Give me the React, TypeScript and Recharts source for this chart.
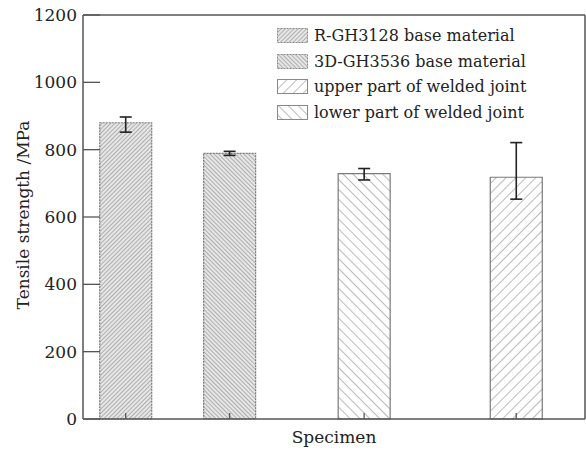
import React from "react";
import { BarChart, Bar, XAxis, YAxis, ErrorBar, Cell, ReferenceLine } from "recharts";

// specimen order as drawn, left to right
const specimenPos = [0.85, 2.92, 5.6, 8.63];
const strength = [880, 789, 729, 718];
const errLow = [28, 6, 19, 65];
const errHigh = [17, 6, 15, 103];
const yTicks = [0, 200, 400, 600, 800, 1000, 1200];

const legendLabels = [
  "R-GH3128 base material",
  "3D-GH3536 base material",
  "upper part of welded joint",
  "lower part of welded joint",
];
// hatch used by each bar, and by each legend row
const barPattern = ["dense-fwd", "dense-back", "sparse-back", "sparse-fwd"];
const legendPattern = ["dense-fwd", "dense-back", "sparse-fwd", "sparse-back"];

const data = specimenPos.map((pos, i) => ({
  pos,
  strength: strength[i],
  err: [errLow[i], errHigh[i]],
}));

const FONT = "'DejaVu Serif', serif";
const AXIS = "#555";

const isDense = (id: string) => id.startsWith("dense");

const YTick = (props: any) => {
  const { x, y, payload } = props;
  return (
    <g>
      <line x1={x} x2={x + 17} y1={y} y2={y} stroke={AXIS} strokeWidth={1.3} />
      <text x={x - 6} y={y} textAnchor="end" dominantBaseline="central" fontFamily={FONT} fontSize={17} fill="#222">
        {payload.value}
      </text>
    </g>
  );
};

const XTick = (props: any) => {
  const { x, y } = props;
  return <line x1={x} x2={x} y1={y} y2={y - 6} stroke={AXIS} strokeWidth={1.3} />;
};

const XLabel = (props: any) => {
  const { viewBox } = props;
  return (
    <text x={viewBox.x + viewBox.width / 2} y={viewBox.y + 24} textAnchor="middle" fontFamily={FONT} fontSize={17} fill="#222">
      Specimen
    </text>
  );
};

const YLabel = (props: any) => {
  const { viewBox } = props;
  const cx = 23;
  const cy = viewBox.y + viewBox.height / 2 - 2;
  return (
    <text x={cx} y={cy} transform={`rotate(-90, ${cx}, ${cy})`} textAnchor="middle" dominantBaseline="central" fontFamily={FONT} fontSize={17} fill="#222">
      Tensile strength /MPa
    </text>
  );
};

const LegendBox = () => (
  <div style={{ position: "absolute", left: 277, top: 23, fontFamily: FONT, fontSize: 16, color: "#222" }}>
    {legendLabels.map((label, i) => (
      <div key={label} style={{ display: "flex", alignItems: "center", height: 25.5 }}>
        <svg width={31} height={15} style={{ marginRight: 6 }}>
          <rect
            x={0.5}
            y={0.5}
            width={30}
            height={14}
            fill={`url(#${legendPattern[i]})`}
            stroke="#888"
            strokeDasharray={isDense(legendPattern[i]) ? "2 1" : undefined}
          />
        </svg>
        <span style={{ whiteSpace: "nowrap" }}>{label}</span>
      </div>
    ))}
  </div>
);

export default function App() {
  return (
    <div style={{ position: "absolute", left: 0, top: 0, width: 586, height: 452, background: "#fff" }}>
      <BarChart width={586} height={452} data={data} margin={{ top: 15, right: 1, bottom: 0, left: 0 }}>
        <defs>
          <pattern id="dense-fwd" patternUnits="userSpaceOnUse" width={3} height={3} patternTransform="rotate(45)">
            <rect width={3} height={3} fill="#e6e6e6" />
            <line x1={0} y1={0} x2={0} y2={3} stroke="#8a8a8a" strokeWidth={1.2} />
          </pattern>
          <pattern id="dense-back" patternUnits="userSpaceOnUse" width={3} height={3} patternTransform="rotate(-45)">
            <rect width={3} height={3} fill="#e6e6e6" />
            <line x1={0} y1={0} x2={0} y2={3} stroke="#8a8a8a" strokeWidth={1.2} />
          </pattern>
          <pattern id="sparse-fwd" patternUnits="userSpaceOnUse" width={7} height={7} patternTransform="rotate(45)">
            <rect width={7} height={7} fill="#fff" />
            <line x1={0} y1={0} x2={0} y2={7} stroke="#777" strokeWidth={1} />
          </pattern>
          <pattern id="sparse-back" patternUnits="userSpaceOnUse" width={7} height={7} patternTransform="rotate(-45)">
            <rect width={7} height={7} fill="#fff" />
            <line x1={0} y1={0} x2={0} y2={7} stroke="#777" strokeWidth={1} />
          </pattern>
        </defs>
        <XAxis
          dataKey="pos"
          type="number"
          domain={[0, 10]}
          ticks={specimenPos}
          allowDataOverflow
          height={33}
          tickSize={0}
          tickMargin={0}
          tickLine={false}
          tick={<XTick />}
          axisLine={{ stroke: AXIS, strokeWidth: 1.5 }}
          label={<XLabel />}
        />
        <YAxis
          domain={[0, 1200]}
          ticks={yTicks}
          width={83}
          tickSize={0}
          tickMargin={0}
          tickLine={false}
          tick={<YTick />}
          axisLine={{ stroke: AXIS, strokeWidth: 1.5 }}
          label={<YLabel />}
        />
        <ReferenceLine y={1200} stroke={AXIS} strokeWidth={1.5} />
        <ReferenceLine x={10} stroke={AXIS} strokeWidth={1.5} />
        <Bar dataKey="strength" barSize={52} isAnimationActive={false}>
          {data.map((d, i) => (
            <Cell
              key={d.pos}
              fill={`url(#${barPattern[i]})`}
              stroke="#7a7a7a"
              strokeWidth={1.2}
              strokeDasharray={isDense(barPattern[i]) ? "2 1" : undefined}
            />
          ))}
          <ErrorBar dataKey="err" width={6} stroke="#222" strokeWidth={1.6} direction="y" />
        </Bar>
      </BarChart>
      <LegendBox />
    </div>
  );
}
